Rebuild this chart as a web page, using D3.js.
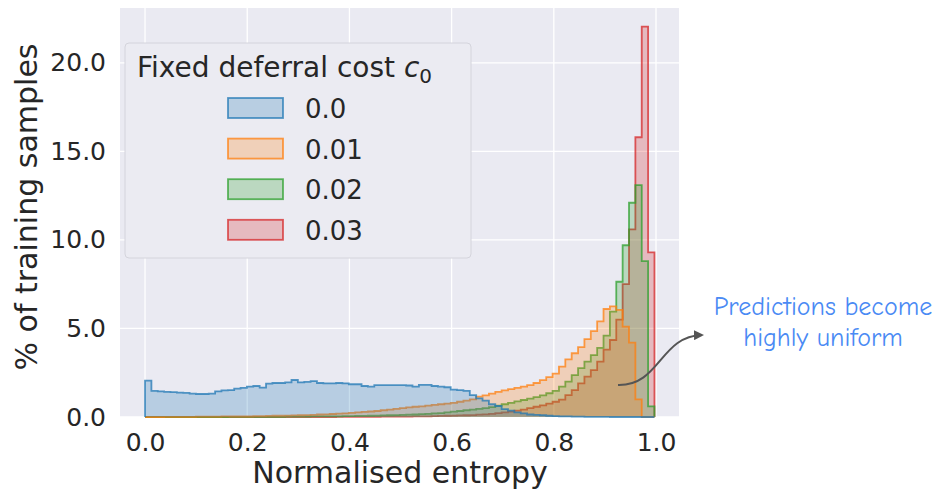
<!DOCTYPE html>
<html>
<head>
<meta charset="utf-8">
<script src="https://cdn.jsdelivr.net/npm/d3@7"></script>
<style>
  body { margin: 0; background: #fff; }
  text { font-family: "DejaVu Sans", sans-serif; fill: #262626; }
  .note { font-family: "Comic Sans MS", "Comic Neue", "Noto Sans", sans-serif; fill: #4a8af4; }
</style>
</head>
<body>
<svg id="chart" width="949" height="491"></svg>
<script>
/////////////////////
// Data
/////////////////////

var costLabels = ["0.0", "0.01", "0.02", "0.03"];
var colors = ["#1f77b4", "#ff7f0e", "#2ca02c", "#d62728"];

// 80 bins over normalised entropy 0 .. 0.997, values are % of training samples
var binLo = 0, binHi = 0.997, nBins = 80;

var cost000 = [2.05,1.47,1.45,1.42,1.40,1.38,1.36,1.32,1.30,1.30,
               1.32,1.45,1.50,1.52,1.60,1.65,1.72,1.75,1.66,1.88,
               1.92,1.92,1.95,2.09,1.96,1.98,2.03,1.92,1.90,1.90,
               1.92,1.90,1.85,1.85,1.75,1.71,1.80,1.80,1.80,1.80,
               1.80,1.78,1.72,1.82,1.82,1.75,1.71,1.68,1.55,1.52,
               1.48,1.24,1.05,0.92,0.72,0.62,0.45,0.36,0.26,0.20,
               0.14,0.12,0.10,0.07,0.05,0.04,0.03,0.02,0.02,0.01,
               0.01,0.01,0.01,0,0,0,0,0,0,0];

var cost001 = [0,0,0,0.01,0.01,0.01,0.01,0.01,0.02,0.02,
               0.02,0.02,0.03,0.03,0.03,0.04,0.04,0.05,0.05,0.06,
               0.07,0.07,0.08,0.09,0.10,0.11,0.12,0.14,0.15,0.17,
               0.19,0.21,0.23,0.26,0.29,0.31,0.34,0.38,0.42,0.46,
               0.50,0.54,0.58,0.60,0.64,0.68,0.72,0.76,0.80,0.86,
               0.92,1.00,1.15,1.22,1.32,1.42,1.50,1.58,1.65,1.72,
               1.80,1.92,2.08,2.25,2.45,2.85,3.25,3.60,3.95,4.40,
               4.85,5.40,6.10,6.25,6.05,5.10,4.20,1.00,0,0];

var cost002 = [0,0,0,0,0,0,0,0,0,0,
               0,0,0,0.01,0.01,0.01,0.01,0.01,0.01,0.01,
               0.01,0.01,0.02,0.02,0.02,0.02,0.03,0.03,0.03,0.04,
               0.04,0.05,0.05,0.06,0.06,0.07,0.08,0.09,0.10,0.11,
               0.12,0.13,0.14,0.16,0.18,0.20,0.22,0.26,0.30,0.34,
               0.38,0.42,0.46,0.50,0.56,0.64,0.72,0.80,0.88,0.96,
               1.04,1.12,1.22,1.34,1.48,1.71,2.00,2.37,2.76,3.13,
               3.50,3.90,4.60,5.95,7.64,9.70,12.10,13.10,8.80,0.60];

var cost003 = [0,0,0,0,0,0,0,0,0,0,
               0,0,0,0,0,0,0,0,0,0,
               0,0,0,0,0,0,0,0,0,0,
               0.01,0.01,0.01,0.01,0.01,0.01,0.01,0.02,0.02,0.02,
               0.02,0.02,0.03,0.03,0.04,0.05,0.06,0.07,0.08,0.09,
               0.10,0.11,0.13,0.15,0.18,0.22,0.26,0.30,0.36,0.42,
               0.50,0.58,0.66,0.76,0.86,0.98,1.24,1.52,1.90,2.28,
               2.65,3.13,3.80,4.35,5.50,7.50,10.60,15.80,22.05,9.30];

var series = [cost000, cost001, cost002, cost003];

var xTicks = [0, 0.2, 0.4, 0.6, 0.8, 1.0];
var yTicks = [0, 5, 10, 15, 20];

/////////////////////
// Scales
/////////////////////

var svg = d3.select("#chart");

var x = d3.scaleLinear()
    .domain([-0.049, 1.045])
    .range([120, 679]);

var y = d3.scaleLinear()
    .domain([0, 23.1])
    .range([417, 8]);

var edges = d3.range(nBins + 1).map(function(i) { return binLo + (binHi - binLo) * i / nBins; });

// Plot background and grid

svg.append("rect")
    .attr("x", x.range()[0])
    .attr("y", y.range()[1])
    .attr("width", x.range()[1] - x.range()[0])
    .attr("height", y.range()[0] - y.range()[1])
    .style("fill", "#eaeaf2");

svg.append("g").selectAll("line")
    .data(xTicks)
  .enter().append("line")
    .attr("x1", function(d) { return x(d); })
    .attr("x2", function(d) { return x(d); })
    .attr("y1", y.range()[0])
    .attr("y2", y.range()[1])
    .style("stroke", "#fff")
    .style("stroke-width", 1.3);

svg.append("g").selectAll("line")
    .data(yTicks)
  .enter().append("line")
    .attr("x1", x.range()[0])
    .attr("x2", x.range()[1])
    .attr("y1", function(d) { return y(d); })
    .attr("y2", function(d) { return y(d); })
    .style("stroke", "#fff")
    .style("stroke-width", 1.3);

/////////////////////
// Step histograms (last hue drawn first, like seaborn)
/////////////////////

var line = d3.line()
    .x(function(p) { return x(p[0]); })
    .y(function(p) { return y(p[1]); });

function stepPoints(vals) {
    var pts = [[edges[0], 0]];
    vals.forEach(function(v, i) {
        pts.push([edges[i], v]);
        pts.push([edges[i + 1], v]);
    });
    pts.push([edges[nBins], 0]);
    return pts;
}

var layers = series.map(function(s, i) { return {vals: s, i: i}; }).reverse();

var hist = svg.append("g").selectAll("g")
    .data(layers)
  .enter().append("g");

hist.append("path")
    .attr("d", function(d) { return line(stepPoints(d.vals)) + "Z"; })
    .style("fill", function(d) { return colors[d.i]; })
    .style("fill-opacity", 0.25)
    .style("stroke", "none");

hist.append("path")
    .attr("d", function(d) { return line(stepPoints(d.vals)); })
    .style("fill", "none")
    .style("stroke", function(d) { return colors[d.i]; })
    .style("stroke-opacity", 0.75)
    .style("stroke-width", 1.8)
    .style("stroke-linejoin", "miter");

/////////////////////
// Axes
/////////////////////

var xAxis = svg.append("g")
    .attr("transform", "translate(0," + y.range()[0] + ")")
    .call(d3.axisBottom(x).tickValues(xTicks).tickFormat(d3.format(".1f")).tickSize(0).tickPadding(16));

var yAxis = svg.append("g")
    .attr("transform", "translate(" + x.range()[0] + ",0)")
    .call(d3.axisLeft(y).tickValues(yTicks).tickFormat(d3.format(".1f")).tickSize(0).tickPadding(14));

[xAxis, yAxis].forEach(function(a) {
    a.select(".domain").remove();
    a.selectAll("text")
        .style("font-size", "25px")
        .style("font-family", "DejaVu Sans, sans-serif")
        .style("fill", "#262626");
});

svg.append("text")
    .attr("x", 400)
    .attr("y", 483)
    .attr("text-anchor", "middle")
    .style("font-size", "30px")
    .text("Normalised entropy");

svg.append("text")
    .attr("transform", "translate(37,207) rotate(-90)")
    .attr("text-anchor", "middle")
    .style("font-size", "30px")
    .text("% of training samples");

/////////////////////
// Legend
/////////////////////

var legend = svg.append("g");

legend.append("rect")
    .attr("x", 125)
    .attr("y", 43)
    .attr("width", 346)
    .attr("height", 215)
    .attr("rx", 4)
    .style("fill", "#ebebf2")
    .style("stroke", "#d4d4dc")
    .style("stroke-width", 1);

var title = legend.append("text")
    .attr("x", 137)
    .attr("y", 77)
    .style("font-size", "28px");
title.append("tspan").text("Fixed deferral cost ");
title.append("tspan").style("font-style", "italic").text("c");
title.append("tspan").attr("dy", 6).style("font-size", "20px").text("0");

var items = legend.selectAll(".item")
    .data(costLabels)
  .enter().append("g")
    .attr("class", "item")
    .attr("transform", function(d, i) { return "translate(0," + (98 + i * 40.6) + ")"; });

items.append("rect")
    .attr("x", 228)
    .attr("y", 0)
    .attr("width", 55)
    .attr("height", 20)
    .style("fill", function(d, i) { return colors[i]; })
    .style("fill-opacity", 0.25)
    .style("stroke", function(d, i) { return colors[i]; })
    .style("stroke-opacity", 0.75)
    .style("stroke-width", 1.8);

items.append("text")
    .attr("x", 305)
    .attr("y", 20)
    .style("font-size", "26px")
    .text(function(d) { return d; });

/////////////////////
// Annotation
/////////////////////

svg.append("defs").append("marker")
    .attr("id", "arrow")
    .attr("viewBox", "0 0 10 10")
    .attr("refX", 8)
    .attr("refY", 5)
    .attr("markerWidth", 5)
    .attr("markerHeight", 5)
    .attr("orient", "auto")
  .append("path")
    .attr("d", "M0,0L10,5L0,10Z")
    .style("fill", "#555");

svg.append("path")
    .attr("d", "M618,385 C660,386 660,336 702,335")
    .style("fill", "none")
    .style("stroke", "#555")
    .style("stroke-width", 2)
    .attr("marker-end", "url(#arrow)");

var note = svg.append("text")
    .attr("class", "note")
    .attr("text-anchor", "middle")
    .style("font-size", "26px");
note.append("tspan").attr("x", 823).attr("y", 315).text("Predictions become");
note.append("tspan").attr("x", 823).attr("y", 346).text("highly uniform");
</script>
</body>
</html>
